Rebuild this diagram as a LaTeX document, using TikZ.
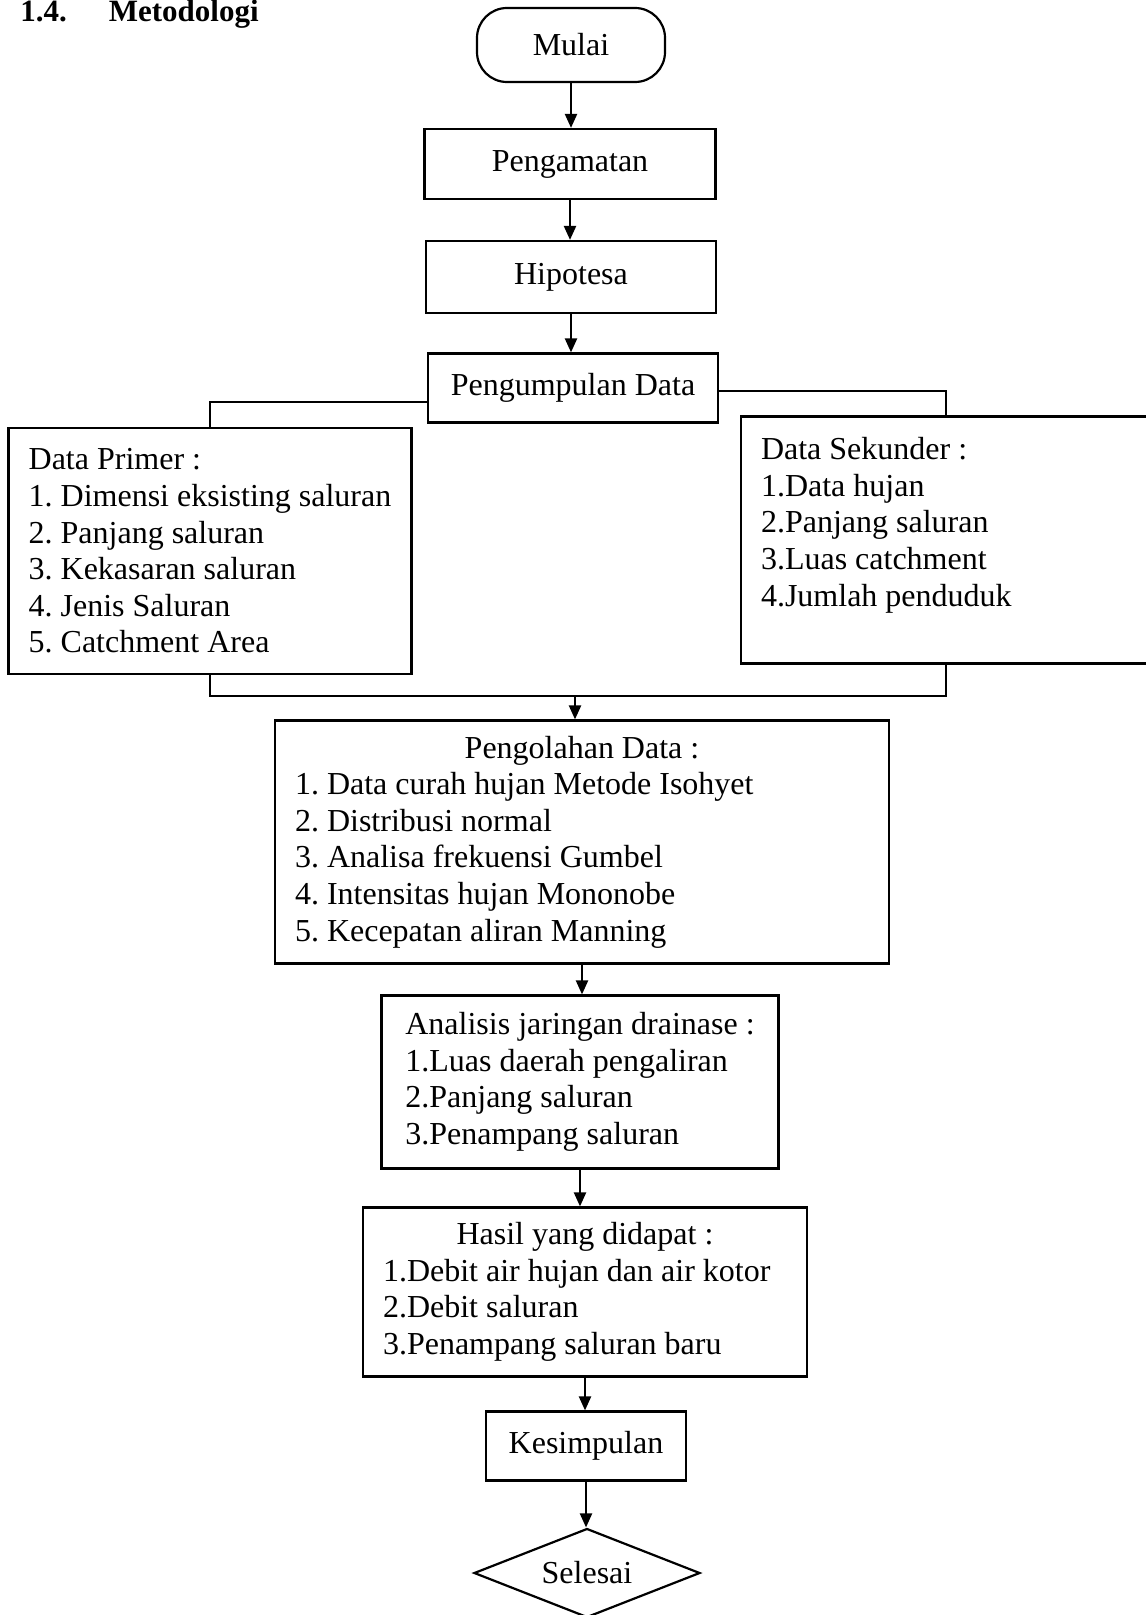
\documentclass[tikz,border=0pt]{standalone}
\usepackage{fontspec}
\setmainfont{Liberation Serif}
\usetikzlibrary{shapes.geometric, arrows.meta, positioning, calc}
\tikzset{
	startstop/.style={rectangle, rounded corners=15pt, minimum width=94pt, minimum height=37pt, text centered, draw=black, line width=1.1pt},
	process/.style  ={rectangle, minimum height=35pt, text centered, draw=black, line width=1.1pt},
	listbox/.style  ={rectangle, align=flush left, inner xsep=10pt, draw=black, line width=1.1pt},
	finish/.style   ={diamond, aspect=2.5, inner sep=0pt, minimum width=113pt, minimum height=44.5pt, text centered, draw=black, line width=1.1pt},
	flowarrow/.style={-{Triangle[length=7pt, width=6pt]}, line width=1.1pt},
	joint/.style    ={line width=1.1pt},
}
\newcommand{\boxhead}[1]{\makebox[\linewidth]{#1}}
\frenchspacing

\begin{document}
\begin{tikzpicture}[x=0.5pt, y=-0.5pt, font=\fontsize{16}{18.3}\selectfont]
	\useasboundingbox (0,0) rectangle (1145,1615);
	\node[anchor=base west, inner sep=0pt, font=\fontsize{15.5}{18}\selectfont\bfseries] (judul) at (20,22) {1.4.\hspace{21pt}Metodologi};
	% main column
	\node[startstop] (mulai) at (571,45) {Mulai};
	\node[process, minimum width=145.5pt] (amat) at (570,164) {Pengamatan};
	\node[process, minimum width=145pt, minimum height=36pt] (hipo) at (571,277) {Hipotesa};
	\node[process, minimum width=145pt, minimum height=34.5pt] (kumpul) at (573,388) {Pengumpulan Data};
	\node[listbox, minimum width=201.5pt, minimum height=123pt] (primer) at (210,551) {Data Primer :\\1. Dimensi eksisting saluran\\2. Panjang saluran\\3. Kekasaran saluran\\4. Jenis Saluran\\5. Catchment Area};
	\node[listbox, text width=185pt, minimum height=123.5pt] (sekunder) at (946,540) {Data Sekunder :\\1.Data hujan\\2.Panjang saluran\\3.Luas catchment\\4.Jumlah penduduk\\[0pt]\mbox{}};
	\node[listbox, text width=287pt, minimum height=121.5pt] (olah) at (582,842) {\boxhead{Pengolahan Data :}\\1. Data curah hujan Metode Isohyet\\2. Distribusi normal\\3. Analisa frekuensi Gumbel\\4. Intensitas hujan Mononobe\\5. Kecepatan aliran Manning};
	\node[listbox, minimum width=198.5pt, minimum height=86.5pt] (analisis) at (580,1082) {Analisis jaringan drainase :\\1.Luas daerah pengaliran\\2.Panjang saluran\\3.Penampang saluran};
	\node[listbox, text width=202pt, minimum height=84.5pt] (hasil) at (585,1292) {\boxhead{Hasil yang didapat :}\\1.Debit air hujan dan air kotor\\2.Debit saluran\\3.Penampang saluran baru};
	\node[process, minimum width=100pt, minimum height=34.5pt] (simpul) at (586,1446) {Kesimpulan};
	\node[finish] (selesai) at (587,1573) {Selesai};
	% connectors
	\draw[flowarrow] (mulai.south) -- (mulai.south |- amat.north);
	\draw[flowarrow] (amat.south) -- (amat.south |- hipo.north);
	\draw[flowarrow] (hipo.south) -- (hipo.south |- kumpul.north);
	\draw[joint] ($(kumpul.west)+(0,14)$) -| (primer.north);
	\draw[joint] ($(kumpul.east)+(0,3)$) -| (sekunder.north);
	\coordinate (gabung) at (575,696);
	\draw[joint] (primer.south) |- (gabung) -| (sekunder.south);
	\draw[flowarrow] (gabung) -- (gabung |- olah.north);
	\draw[flowarrow] (olah.south) -- (olah.south |- analisis.north);
	\draw[flowarrow] (analisis.south) -- (analisis.south |- hasil.north);
	\draw[flowarrow] (hasil.south) -- (hasil.south |- simpul.north);
	\draw[flowarrow] (simpul.south) -- (simpul.south |- selesai.north);
\end{tikzpicture}
\end{document}
